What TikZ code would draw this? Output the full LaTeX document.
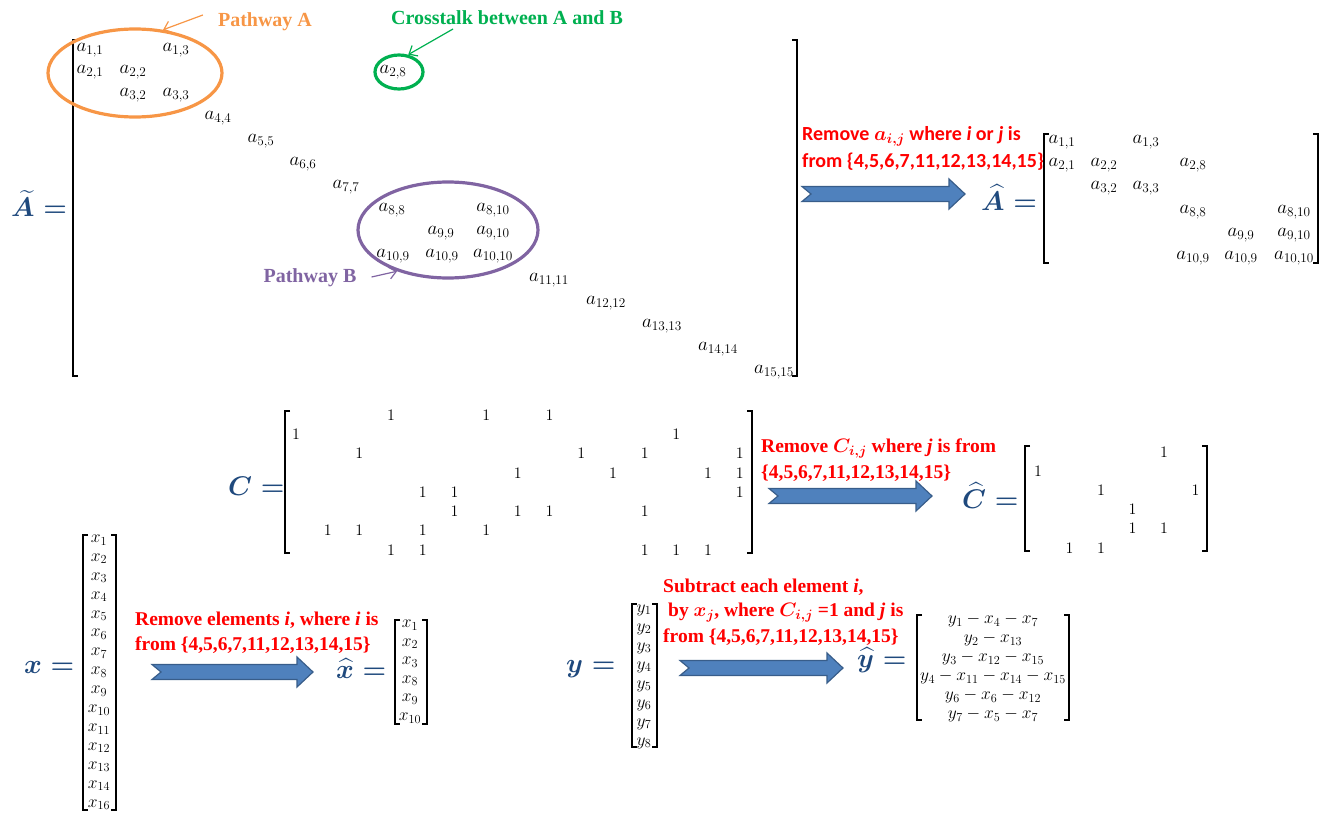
\RequirePackage{fix-cm}
\documentclass[tikz,border=0pt]{standalone}
\usepackage{amsmath}
\usepackage{fontspec}
\setmainfont{Liberation Serif}
\newfontfamily\timfont{Liberation Serif}
\newfontfamily\calfont{Carlito}
\usetikzlibrary{arrows.meta,shapes.geometric}

\definecolor{labblue}{RGB}{31,73,125}
\definecolor{arrfill}{RGB}{79,129,189}
\definecolor{arredge}{RGB}{56,93,138}
\definecolor{pathAcol}{RGB}{247,150,70}
\definecolor{pathBcol}{RGB}{128,100,162}
\definecolor{xtalkcol}{RGB}{0,176,80}
\definecolor{notered}{RGB}{255,0,0}

\newcommand\fsz[1]{\fontsize{#1}{#1}\selectfont}
% square brackets: x, top y, bottom y
\newcommand\lbrk[3]{\draw[brk] (#1+5,#2) -- (#1,#2) -- (#1,#3) -- (#1+5,#3);}
\newcommand\rbrk[3]{\draw[brk] (#1-5,#2) -- (#1,#2) -- (#1,#3) -- (#1-5,#3);}
% block arrow with notched tail: tail x, centre y, tip x
\newcommand\blockarrow[3]{\filldraw[fill=arrfill,draw=arredge,line width=1.2pt,line join=miter]
  (#1,#2-7.5) -- (#3-16,#2-7.5) -- (#3-16,#2-15) -- (#3,#2) -- (#3-16,#2+15)
  -- (#3-16,#2+7.5) -- (#1,#2+7.5) -- (#1+9,#2) -- cycle;}

\begin{document}
\begin{tikzpicture}[x=1pt,y=-1pt,
  ent/.style={inner sep=0pt,font=\timfont\fsz{19}},
  one/.style={inner sep=0pt,font=\timfont\fsz{16}},
  vec/.style={inner sep=0pt,font=\timfont\fsz{17.5}},
  brk/.style={line width=1.6pt},
  biglab/.style={anchor=base west,inner sep=0pt,text=labblue,font=\timfont\fsz{27}},
  tag/.style={inner sep=0pt,font=\timfont\bfseries\fsz{20}},
  ring/.style={ellipse,inner sep=0pt,line width=3.2pt},
  pointer/.style={-{Straight Barb[length=7pt,width=12pt]},line width=1.2pt},
  redcal/.style={anchor=west,inner sep=0pt,text=notered,font={\calfont\bfseries\fsz{20}}},
  redtim/.style={anchor=west,inner sep=0pt,text=notered,font={\timfont\bfseries\fsz{19.5}}},
]
\useasboundingbox (0,0) rectangle (1326,816);

% ---------- full interaction matrix ----------
\node[biglab] (Atil) at (11,216) {$\boldsymbol{\widetilde{A}=}$};
\lbrk{73}{40}{376}
\rbrk{797}{40}{376}
\foreach \nm/\x/\y/\s in {
  11/90/50/{1,1}, 13/176/50/{1,3},
  21/90/72/{2,1}, 22/133/72/{2,2}, 28/393/72/{2,8},
  32/133/95/{3,2}, 33/176/95/{3,3},
  44/218/118/{4,4}, 55/261/141/{5,5}, 66/303/164/{6,6}, 77/346/187/{7,7},
  88/392/210/{8,8}, 810/493/210/{8,10},
  99/441/233/{9,9}, 910/493/233/{9,10},
  109a/393/256/{10,9}, 109b/442/256/{10,9}, 1010/493/256/{10,10},
  1111/549/280/{11,11}, 1212/606/303/{12,12}, 1313/662/326/{13,13},
  1414/718/349/{14,14}, 1515/774/372/{15,15}}
  \node[ent] (tA\nm) at (\x,\y) {$a_{\s}$};

% pathway rings and their labels
\node[ring,draw=pathAcol,minimum width=174pt,minimum height=88pt] (ringA) at (135,73) {};
\node[ring,draw=xtalkcol,minimum width=48pt,minimum height=34pt] (ringX) at (399,72) {};
\node[ring,draw=pathBcol,minimum width=180pt,minimum height=96pt] (ringB) at (448,230) {};
\node[tag,text=pathAcol] (labA) at (265,22) {Pathway A};
\node[tag,text=xtalkcol] (labX) at (507,18) {Crosstalk between A and B};
\node[tag,text=pathBcol] (labB) at (310,278) {Pathway B};
\draw[pointer,pathAcol] ([xshift=-15pt,yshift=7pt]labA.west) -- (ringA.57);
\draw[pointer,xtalkcol] ([xshift=-54pt,yshift=-11pt]labX.center) -- (ringX.62);
\draw[pointer,pathBcol] ([xshift=15pt,yshift=1pt]labB.east) -- (ringB.219);

% ---------- reduced interaction matrix ----------
\node[redcal] (remA1) at (802,136) {Remove $\boldsymbol{a_{i,j}}$ where \textit{i} or \textit{j} is};
\node[redcal] (remA2) at (802,162) {from \{4,5,6,7,11,12,13,14,15\}};
\blockarrow{802}{194}{965}
\node[biglab] (Ahat) at (981,210) {$\boldsymbol{\widehat{A}=}$};
\lbrk{1044}{134}{263}
\rbrk{1318}{134}{263}
\foreach \nm/\x/\y/\s in {
  11/1062/142/{1,1}, 13/1146/142/{1,3},
  21/1062/165/{2,1}, 22/1104/165/{2,2}, 28/1193/165/{2,8},
  32/1104/188/{3,2}, 33/1146/188/{3,3},
  88/1193/212/{8,8}, 810/1294/212/{8,10},
  99/1241/235/{9,9}, 910/1294/235/{9,10},
  109a/1193/258/{10,9}, 109b/1241/258/{10,9}, 1010/1294/258/{10,10}}
  \node[ent] (hA\nm) at (\x,\y) {$a_{\s}$};

% ---------- connection matrix ----------
\node[biglab] (Clab) at (228,495) {$\boldsymbol{C=}$};
\lbrk{285}{411}{553}
\rbrk{752}{411}{553}
\foreach \r/\c in {1/4,1/7,1/9, 2/1,2/13, 3/3,3/10,3/12,3/15, 4/8,4/11,4/14,4/15,
  5/5,5/6,5/15, 6/6,6/8,6/9,6/12, 7/2,7/3,7/5,7/7, 8/4,8/5,8/12,8/13,8/14}
  \node[one] (C-\r-\c) at ({296+31.7*(\c-1)},{415+19.3*(\r-1)}) {$1$};

\node[redtim] (remC1) at (761,448) {Remove $\boldsymbol{C_{i,j}}$ where \textit{j} is from};
\node[redtim] (remC2) at (761,473) {\{4,5,6,7,11,12,13,14,15\}};
\blockarrow{769}{496}{932}
\node[biglab] (Chat) at (962,508) {$\boldsymbol{\widehat{C}=}$};
\lbrk{1025}{446}{551}
\rbrk{1207}{446}{551}
\foreach \r/\c in {1/5, 2/1, 3/3,3/6, 4/4, 5/4,5/5, 6/2,6/3}
  \node[one] (Ch-\r-\c) at ({1038+31.5*(\c-1)},{452+19.2*(\r-1)}) {$1$};

% ---------- x vector ----------
\node[biglab] (xlab) at (24,673) {$\boldsymbol{x=}$};
\lbrk{83}{535}{810}
\rbrk{116}{535}{810}
\foreach \i [count=\k from 0] in {1,2,3,4,5,6,7,8,9,10,11,12,13,14,16}
  \node[vec] (xv\i) at (99,{540+18.9*\k}) {$x_{\i}$};
\node[redtim] (remx1) at (135,620) {Remove elements \textit{i}, where \textit{i} is};
\node[redtim] (remx2) at (135,645) {from \{4,5,6,7,11,12,13,14,15\}};
\blockarrow{152}{672}{313}
\node[biglab] (xhat) at (336,678) {$\boldsymbol{\widehat{x}=}$};
\lbrk{395}{620}{724}
\rbrk{427}{620}{724}
\foreach \i [count=\k from 0] in {1,2,3,8,9,10}
  \node[vec] (xh\i) at (410,{625+18.6*\k}) {$x_{\i}$};

% ---------- y vector ----------
\node[biglab] (ylab) at (566,672) {$\boldsymbol{y=}$};
\lbrk{632}{604}{747}
\rbrk{657}{604}{747}
\foreach \i [count=\k from 0] in {1,...,8}
  \node[vec] (yv\i) at (644,{610+19*\k}) {$y_{\i}$};
\node[redtim] (remy1) at (663,587) {Subtract each element \textit{i},};
\node[redtim] (remy2) at (668,613) {by $\boldsymbol{x_j}$, where $\boldsymbol{C_{i,j}}$ =1 and \textit{j} is};
\node[redtim] (remy3) at (663,637) {from \{4,5,6,7,11,12,13,14,15\}};
\blockarrow{680}{668}{843}
\node[biglab] (yhat) at (857,667) {$\boldsymbol{\widehat{y}=}$};
\lbrk{917}{615}{720}
\rbrk{1069}{615}{720}
\foreach \e [count=\k from 0] in {
  {y_1-x_4-x_7}, {y_2-x_{13}}, {y_3-x_{12}-x_{15}},
  {y_4-x_{11}-x_{14}-x_{15}}, {y_6-x_6-x_{12}}, {y_7-x_5-x_7}}
  \node[vec] (yh\k) at (993,{620+19*\k}) {$\e$};
\end{tikzpicture}
\end{document}
